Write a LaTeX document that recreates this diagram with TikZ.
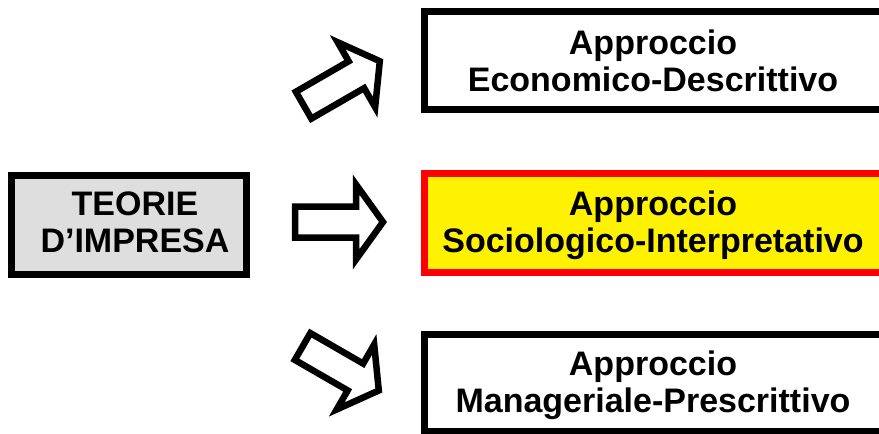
\documentclass[tikz,border=0pt]{standalone}
\usepackage{fontspec}
\setmainfont{Liberation Sans}
\begin{document}
\begin{tikzpicture}[x=1pt,y=-1pt,
  frame/.style={draw=black, line width=7pt, fill=white, inner sep=0pt, outer sep=0pt},
  srcframe/.style={frame, fill=black!13},
  hiframe/.style={frame, draw=red, fill=yellow},
  lbl/.style={font=\bfseries\fontsize{34}{37}\selectfont, align=center, inner sep=0pt, anchor=base},
  arrowline/.style={draw=black, line width=6.5pt, fill=white, line join=miter},
  blockarrow/.pic={\path[arrowline] (3,-15.5) -- (64,-15.5) -- (64,-37.5) -- (91,0)
      -- (64,37.5) -- (64,15.5) -- (3,15.5) -- cycle;}
]
\clip (0,0) rectangle (879,434);
\fill[white] (0,0) rectangle (879,434);

% source box
\node[srcframe, minimum width=235pt, minimum height=99pt] (theory) at (129,225) {};
% (base anchor of a two-line label sits on its last line)
\node[lbl] (theory-text) at (135,252) {TEORIE\\D’IMPRESA};

% three approaches (boxes run past the right edge)
\node[frame, minimum width=465.5pt, minimum height=98pt] (econ) at (657.25,60.5) {};
\node[hiframe, minimum width=465.5pt, minimum height=99pt] (socio) at (657.25,223) {};
\node[frame, minimum width=465.5pt, minimum height=97pt] (manag) at (657.25,383) {};

\node[lbl] (econ-text) at (653,91) {Approccio\\Economico-Descrittivo};
\node[lbl] (socio-text) at (653,252) {Approccio\\Sociologico-Interpretativo};
\node[lbl] (manag-text) at (653,412) {Approccio\\Manageriale-Prescrittivo};

% block arrows
\pic[rotate=30] (to-econ) at (301,106.7) {blockarrow};
\pic (to-socio) at (292,222) {blockarrow};
\pic[rotate=-30] (to-manag) at (300,345) {blockarrow};
\end{tikzpicture}
\end{document}
